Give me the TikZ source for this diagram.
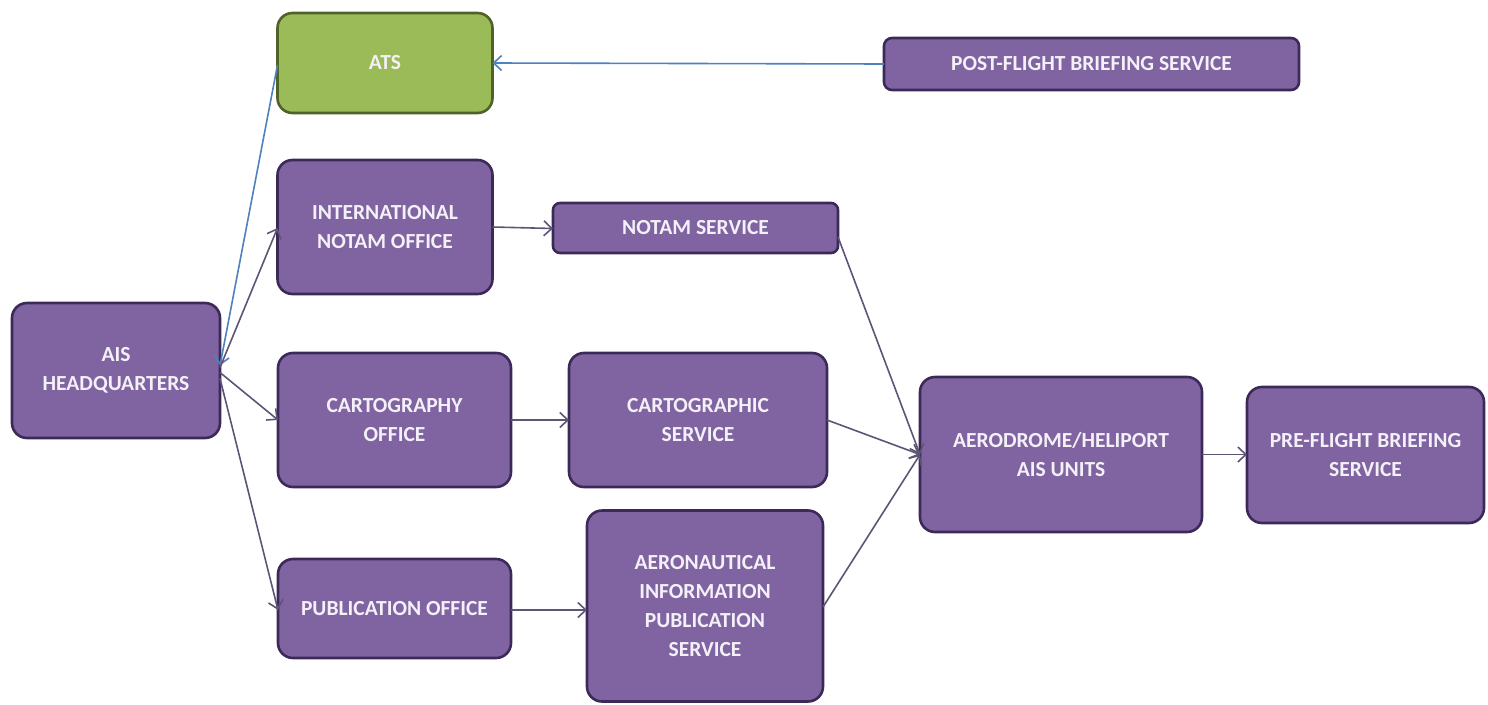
\documentclass[tikz,border=0pt]{standalone}
\usepackage{fontspec}
\setmainfont{Carlito}
\usetikzlibrary{arrows.meta}
\definecolor{boxfill}{HTML}{8064A2}
\definecolor{boxdraw}{HTML}{3B2A58}
\definecolor{atsfill}{HTML}{9BBB59}
\definecolor{atsdraw}{HTML}{4F6228}
\definecolor{linkc}{HTML}{5E5475}
\definecolor{bluec}{HTML}{4F81BD}
\definecolor{txtc}{HTML}{F4F0F8}
\begin{document}
\begin{tikzpicture}[x=1pt,y=-1pt,
  box/.style={draw=boxdraw, fill=boxfill, line width=2.6pt, rounded corners=15pt,
    text=txtc, font=\fontsize{21.5}{29}\selectfont\bfseries, align=center,
    inner sep=0pt, outer sep=0pt},
  link/.style={draw=linkc, line width=1.6pt, -{Straight Barb[length=8pt,width=15pt]}},
  bluelink/.style={link, draw=bluec}]
\useasboundingbox (0,0) rectangle (1488,704);
\node[box, fill=atsfill, draw=atsdraw, minimum width=215pt, minimum height=100pt] (ats) at (385,63) {ATS};
\node[box, rounded corners=8pt, minimum width=415pt, minimum height=52pt] (post) at (1091.5,64) {POST-FLIGHT BRIEFING SERVICE};
\node[box, minimum width=215pt, minimum height=134pt] (intl) at (385,227) {INTERNATIONAL\\NOTAM OFFICE};
\node[box, rounded corners=7pt, minimum width=285pt, minimum height=50pt] (notam) at (695.5,228) {NOTAM SERVICE};
\node[box, minimum width=208pt, minimum height=135pt] (hq) at (116,370.5) {AIS\\HEADQUARTERS};
\node[box, minimum width=233pt, minimum height=134pt] (cartoff) at (394.5,420) {CARTOGRAPHY\\OFFICE};
\node[box, minimum width=258pt, minimum height=134pt] (cartsvc) at (698,420) {CARTOGRAPHIC\\SERVICE};
\node[box, minimum width=233pt, minimum height=99pt] (pub) at (394.5,608.5) {PUBLICATION OFFICE};
\node[box, minimum width=236pt, minimum height=191pt] (aip) at (705,606) {AERONAUTICAL\\INFORMATION\\PUBLICATION\\SERVICE};
\node[box, minimum width=282pt, minimum height=155pt] (aero) at (1061,454.5) {AERODROME/HELIPORT\\AIS UNITS};
\node[box, minimum width=237pt, minimum height=136pt] (pre) at (1365.5,455) {PRE-FLIGHT BRIEFING\\SERVICE};

\draw[bluelink] (post.west) -- (ats.east);
\draw[bluelink] ([yshift=-2pt]ats.west) -- ([yshift=5pt]hq.east);
\draw[link] ([yshift=3pt]hq.east) -- ([yshift=-1pt]intl.west);
\draw[link] ([yshift=-2pt]hq.east) -- (cartoff.west);
\draw[link] ([yshift=-8pt]hq.east) -- ([yshift=-1.5pt]pub.west);
\draw[link] (intl.west -| intl.east) -- ([yshift=-0.5pt]notam.west);
\draw[link] (cartoff.east) -- (cartsvc.west);
\draw[link] ([yshift=-1.5pt]pub.east) -- ([yshift=-1.5pt]pub.east -| aip.west);
\draw[link] ([yshift=-9pt]notam.east) -- (aero.west);
\draw[link] (cartsvc.east) -- (aero.west);
\draw[link] ([yshift=-1pt]aip.east) -- (aero.west);
\draw[link] (aero.east) -- (aero.east -| pre.west);
\end{tikzpicture}
\end{document}
